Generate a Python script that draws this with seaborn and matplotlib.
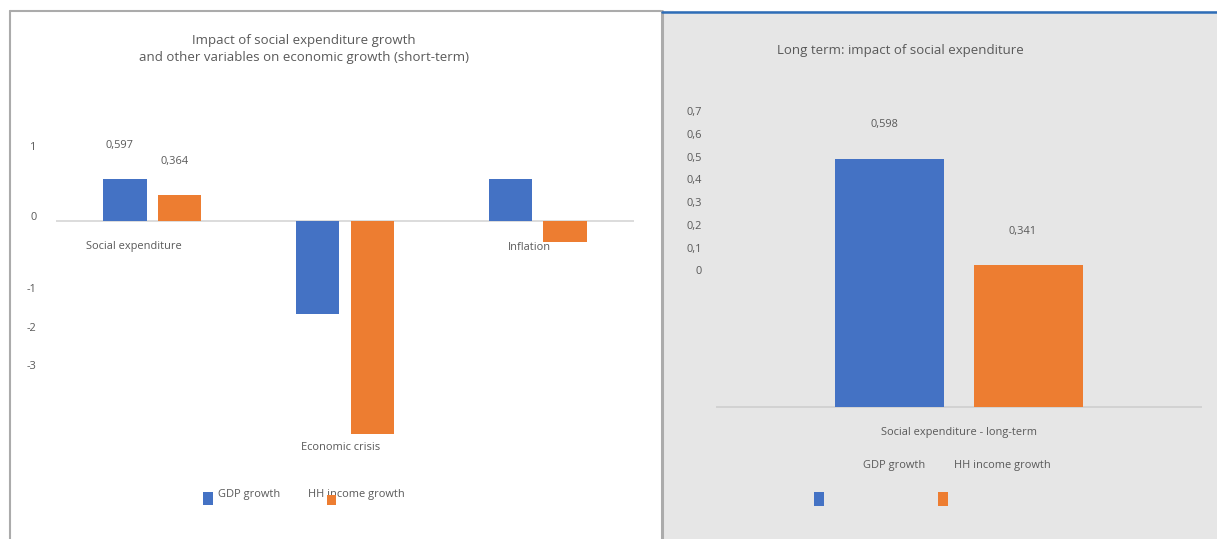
import matplotlib
matplotlib.use("Agg")
import matplotlib.pyplot as plt
from matplotlib.patches import Rectangle
from matplotlib.lines import Line2D
import seaborn as sns
import pandas as pd

# ---------------- data ----------------
series = ["GDP growth", "HH income growth"]
short_categories = ["Social expenditure", "Economic crisis", "Inflation"]
short_gdp = [0.597, -1.34, 0.59]
short_hh = [0.364, -3.05, -0.31]
short_labelled = ["Social expenditure"]          # only these bars carry data labels
short_ticklabels = ["1", "0", "-1", "-2", "-3"]

long_categories = ["Social expenditure - long-term"]
long_gdp = [0.598]
long_hh = [0.341]
long_ticklabels = ["0,7", "0,6", "0,5", "0,4", "0,3", "0,2", "0,1", "0"]

title_left = "Impact of social expenditure growth\nand other variables on economic growth (short-term)"
title_right = "Long term: impact of social expenditure"

# ---------------- style ----------------
BLUE = "#4472C4"
ORANGE = "#ED7D31"
TXT = "#595959"
GRID = "#D9D9D9"
sns.set_style("white")
plt.rcParams["font.family"] = ["Open Sans", "DejaVu Sans"]
FS = 7.9
FT = 9.5

W, H = 1217, 539
fig = plt.figure(figsize=(W / 100, H / 100), dpi=100)
fig.patch.set_facecolor("white")


def fx(x):
    return x / W


def fy(y):
    return 1 - y / H


# panel frames
fig.add_artist(Rectangle((fx(661), fy(539)), fx(1217) - fx(661), fy(11) - fy(539),
                         transform=fig.transFigure, facecolor="#E6E6E6",
                         edgecolor="none", zorder=-10))
fig.add_artist(Line2D([fx(9.5), fx(9.5)], [fy(10.5), fy(539)], transform=fig.transFigure,
                      color="#ABABAB", lw=1.5, zorder=-5))
fig.add_artist(Line2D([fx(9.5), fx(661)], [fy(10.5), fy(10.5)], transform=fig.transFigure,
                      color="#ABABAB", lw=1.5, zorder=-5))
fig.add_artist(Line2D([fx(661.5), fx(661.5)], [fy(11), fy(539)], transform=fig.transFigure,
                      color="#ABABAB", lw=2.2, zorder=-5))
fig.add_artist(Line2D([fx(662), fx(1217)], [fy(11.5), fy(11.5)], transform=fig.transFigure,
                      color="#2E6DB8", lw=1.8, zorder=-5))

bar_width = 0.57
bar_gap = 0.21


def fmt(v):
    return f"{v:.3f}".replace(".", ",")


# ---------------- left chart ----------------
df_s = pd.DataFrame({
    "category": short_categories * 2,
    "series": [series[0]] * 3 + [series[1]] * 3,
    "value": short_gdp + short_hh,
})
axl = fig.add_axes([fx(56), fy(470), fx(634) - fx(56), fy(100) - fy(470)])
axl.set_facecolor("none")
sns.barplot(data=df_s, x="category", y="value", hue="series", order=short_categories,
            hue_order=series, palette=[BLUE, ORANGE], saturation=1, width=bar_width,
            gap=bar_gap, legend=False, ax=axl, errorbar=None, linewidth=0)
px_per_unit_l = 70.0
axl.set_ylim((220.5 - 470) / px_per_unit_l, (220.5 - 100) / px_per_unit_l)
axl.set_xlim(-0.5, len(short_categories) - 0.5)
axl.axhline(0, color=GRID, lw=1.3, zorder=0)
for s in axl.spines.values():
    s.set_visible(False)
axl.set_xticks([])
axl.set_xlabel("")
axl.set_ylabel("")
# y tick labels as they appear in the picture
tick_px_l = [145.7, 216, 288.3, 326.7, 365]
axl.set_yticks([(220.5 - p) / px_per_unit_l for p in tick_px_l])
axl.set_yticklabels(short_ticklabels)
axl.tick_params(axis="y", length=0, pad=14, labelsize=FS, labelcolor=TXT)

# data labels for labelled category
bars_l = axl.patches
for i, cat in enumerate(short_categories):
    if cat in short_labelled:
        for j, vals in enumerate([short_gdp, short_hh]):
            b = bars_l[j * len(short_categories) + i]
            axl.annotate(fmt(vals[i]), (b.get_x() + b.get_width() / 2, b.get_height()),
                         xytext=(-4, 24), textcoords="offset points", ha="center",
                         va="center", fontsize=FS, color=TXT)

fig.text(fx(304), fy(49), title_left, ha="center", va="center", fontsize=FT,
         color=TXT, linespacing=1.4)
cat_pos_l = [(133.5, 247), (341, 448), (529, 247)]
for cat, (x, y) in zip(short_categories, cat_pos_l):
    fig.text(fx(x), fy(y), cat, ha="center", va="center", fontsize=FS, color=TXT)

# legend left
fig.add_artist(Rectangle((fx(203.3), fy(505)), fx(10), 13 / H, transform=fig.transFigure,
                         facecolor=BLUE, edgecolor="none"))
fig.text(fx(217.7), fy(494), series[0], ha="left", va="center", fontsize=FS, color=TXT)
fig.text(fx(307.7), fy(494), series[1], ha="left", va="center", fontsize=FS, color=TXT)
fig.add_artist(Rectangle((fx(326.7), fy(505)), fx(9.5), 10 / H, transform=fig.transFigure,
                         facecolor=ORANGE, edgecolor="none", zorder=5))

# ---------------- right chart ----------------
df_l = pd.DataFrame({
    "category": long_categories * 2,
    "series": series,
    "value": long_gdp + long_hh,
})
axr = fig.add_axes([fx(716), fy(420), fx(1202) - fx(716), fy(100) - fy(420)])
axr.set_facecolor("none")
sns.barplot(data=df_l, x="category", y="value", hue="series", order=long_categories,
            hue_order=series, palette=[BLUE, ORANGE], saturation=1, width=bar_width,
            gap=bar_gap, legend=False, ax=axr, errorbar=None, linewidth=0)
px_per_unit_r = 416.0
axr.set_ylim((407.3 - 420) / px_per_unit_r, (407.3 - 100) / px_per_unit_r)
axr.set_xlim(-0.5, 0.5)
axr.axhline(0, color="#D0D0D0", lw=1.3, zorder=0)
for s in axr.spines.values():
    s.set_visible(False)
axr.set_xticks([])
axr.set_xlabel("")
axr.set_ylabel("")
tick_px_r = [110.7, 133.7, 156.7, 179.5, 202.3, 225.3, 248.3, 270]
axr.set_yticks([(407.3 - p) / px_per_unit_r for p in tick_px_r])
axr.set_yticklabels(long_ticklabels)
axr.tick_params(axis="y", length=0, pad=10, labelsize=FS, labelcolor=TXT)

for b, v in zip(axr.patches, long_gdp + long_hh):
    axr.annotate(fmt(v), (b.get_x() + b.get_width() / 2, b.get_height()),
                 xytext=(-4, 24.5), textcoords="offset points", ha="center",
                 va="center", fontsize=FS, color=TXT)

fig.text(fx(900), fy(50.7), title_right, ha="center", va="center", fontsize=FT, color=TXT)
fig.text(fx(959), fy(433), long_categories[0], ha="center", va="center", fontsize=FS,
         color=TXT)

# legend right
fig.text(fx(863), fy(465.7), series[0], ha="left", va="center", fontsize=FS, color=TXT)
fig.text(fx(954), fy(465.7), series[1], ha="left", va="center", fontsize=FS, color=TXT)
fig.add_artist(Rectangle((fx(814.5), fy(506)), fx(10), 14 / H, transform=fig.transFigure,
                         facecolor=BLUE, edgecolor="none"))
fig.add_artist(Rectangle((fx(938), fy(506)), fx(10), 14 / H, transform=fig.transFigure,
                         facecolor=ORANGE, edgecolor="none"))

fig.savefig("out.png", dpi=100, facecolor=fig.get_facecolor())
